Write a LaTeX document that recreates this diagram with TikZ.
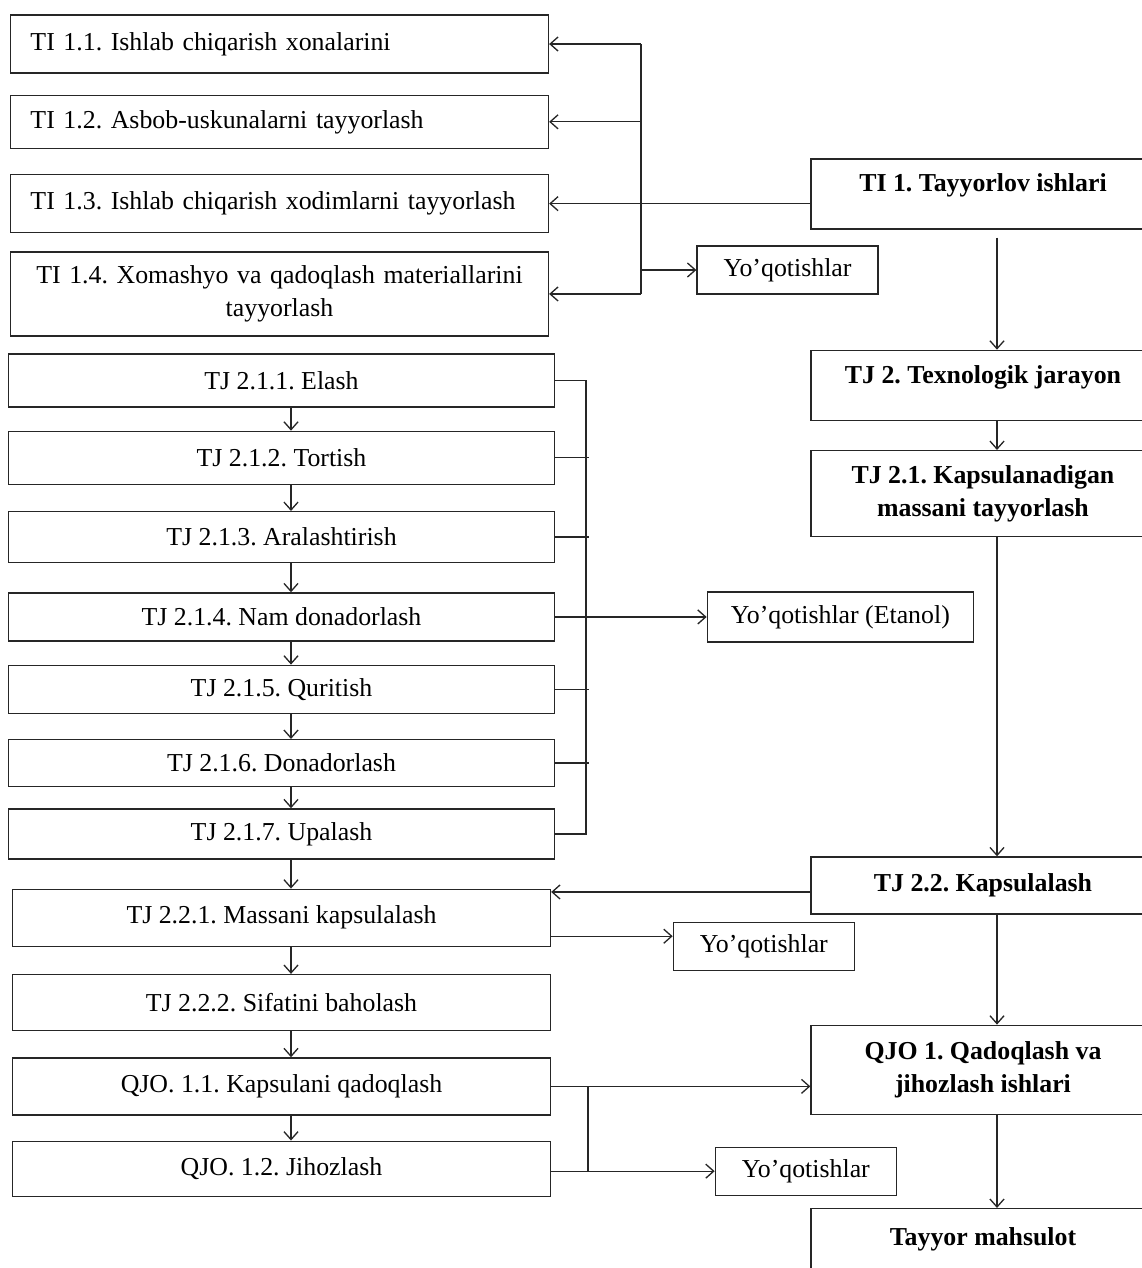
\documentclass[tikz,border=0pt]{standalone}
\usepackage{fontspec}
\setmainfont{Liberation Serif}
\usetikzlibrary{positioning, arrows.meta}
\frenchspacing
\definecolor{ink}{HTML}{262626}
\tikzset{
  flow box/.style={
    draw=ink,
    line width=0.75pt,
    text=black,
    inner xsep=0.4cm,
    inner ysep=0pt,
    align=center,
    font=\fontsize{14.7}{18.7}\selectfont,
  },
  prep box/.style={
    flow box,
    text width=9.96cm,
    align=left,
  },
  task box/.style={
    flow box,
    minimum width=10.92cm,
    inner xsep=0pt,
  },
  main box/.style={
    flow box,
    minimum width=6.88cm,
    inner xsep=0pt,
    font=\fontsize{14.7}{18.7}\selectfont\bfseries,
  },
  loss box/.style={
    flow box,
    minimum width=3.62cm,
    minimum height=0.96cm,
    inner xsep=0pt,
  },
  link/.style={ink, line width=0.75pt},
  arr/.style={link, -{Straight Barb[length=4.5pt, width=8pt]}},
}

\begin{document}
\begin{tikzpicture}[node distance=0.5cm]
  \useasboundingbox (0,0) rectangle (22.84,-25.36);
  \clip (0,0) rectangle (22.84,-25.36);

  % --- TI 1: preparation steps ---
  \node[prep box, minimum height=1.16cm] (ti11) at (5.59,-0.88) {TI 1.1. Ishlab chiqarish xonalarini};
  \node[prep box, minimum height=1.06cm, below=0.42cm of ti11] (ti12) {TI 1.2. Asbob-uskunalarni tayyorlash};
  \node[prep box, minimum height=1.16cm, below=0.5cm of ti12] (ti13) {TI 1.3. Ishlab chiqarish xodimlarni tayyorlash};
  \node[prep box, align=center, minimum height=1.68cm, below=0.36cm of ti13] (ti14) {TI 1.4. Xomashyo va qadoqlash materiallarini\\tayyorlash};
  \node[loss box] (loss1) at (15.75,-5.4) {Yo’qotishlar};

  % --- TJ 2.1: capsule mass steps ---
  \node[task box, minimum height=1.06cm] (tj211) at (5.63,-7.61) {TJ 2.1.1. Elash};
  \node[task box, minimum height=1.06cm, below=0.46cm of tj211] (tj212) {TJ 2.1.2. Tortish};
  \node[task box, minimum height=1.02cm, below=0.52cm of tj212] (tj213) {TJ 2.1.3. Aralashtirish};
  \node[task box, minimum height=0.96cm, below=0.58cm of tj213] (tj214) {TJ 2.1.4. Nam donadorlash};
  \node[task box, minimum height=0.96cm, below=0.46cm of tj214] (tj215) {TJ 2.1.5. Quritish};
  \node[task box, minimum height=0.94cm, below=0.5cm of tj215] (tj216) {TJ 2.1.6. Donadorlash};
  \node[task box, minimum height=1cm, below=0.42cm of tj216] (tj217) {TJ 2.1.7. Upalash};
  \node[loss box, minimum width=5.32cm, minimum height=1cm, right=3.03cm of tj214] (lossE) {Yo’qotishlar (Etanol)};

  % --- TJ 2.2 and QJO steps ---
  \node[task box, minimum width=10.76cm, minimum height=1.14cm, below=0.58cm of tj217] (tj221) {TJ 2.2.1. Massani kapsulalash};
  \node[task box, minimum width=10.76cm, minimum height=1.12cm, below=0.54cm of tj221] (tj222) {TJ 2.2.2. Sifatini baholash};
  \node[task box, minimum width=10.76cm, minimum height=1.14cm, below=0.52cm of tj222] (qjo11) {QJO. 1.1. Kapsulani qadoqlash};
  \node[task box, minimum width=10.76cm, minimum height=1.1cm, below=0.5cm of qjo11] (qjo12) {QJO. 1.2. Jihozlash};
  \node[loss box, right=2.43cm of tj221, yshift=-0.57cm] (loss2) {Yo’qotishlar};
  \node[loss box, right=3.27cm of qjo12, yshift=-0.05cm] (loss3) {Yo’qotishlar};

  % --- Main stages (right column) ---
  \node[main box, minimum height=1.4cm, text depth=0.44cm] (ti1) at (19.66,-3.88) {TI 1. Tayyorlov ishlari};
  \node[main box, minimum height=1.4cm, text depth=0.44cm, below=2.4cm of ti1] (tj2) {TJ 2. Texnologik jarayon};
  \node[main box, minimum height=1.72cm, below=0.58cm of tj2] (tj21) {TJ 2.1. Kapsulanadigan\\massani tayyorlash};
  \node[main box, minimum height=1.14cm, below=6.38cm of tj21] (tj22) {TJ 2.2. Kapsulalash};
  \node[main box, minimum height=1.78cm, below=2.2cm of tj22] (qjo1) {QJO 1. Qadoqlash va\\jihozlash ishlari};
  \node[main box, minimum height=2.4cm, text depth=1.28cm, below=1.86cm of qjo1] (tayyor) {Tayyor mahsulot};

  \coordinate (tibus) at (12.82,0);
  \coordinate (lbus) at (11.72,0);
  \coordinate (qbus) at (11.76,0);
  \coordinate (chain) at (5.82,0);
  \coordinate (spine) at (19.94,0);

  % --- Connections: TI 1 ---
  \draw[link] (tibus |- ti11.east) -- (tibus |- ti14.east);
  \foreach \n in {11,12,14} {
    \draw[arr] (tibus |- ti\n.east) -- (ti\n.east);
  }
  \draw[arr] (ti1.west |- ti13.east) -- (ti13.east);
  \draw[arr] (tibus |- loss1.west) -- (loss1.west);

  % --- Connections: main stages ---
  \draw[arr, shorten <=0.16cm] (spine |- ti1.south) -- (spine |- tj2.north);
  \foreach \a/\b in {tj2/tj21, tj21/tj22, tj22/qjo1, qjo1/tayyor} {
    \draw[arr] (spine |- \a.south) -- (spine |- \b.north);
  }

  % --- Connections: left chain ---
  \foreach \a/\b in {tj211/tj212, tj212/tj213, tj213/tj214, tj214/tj215, tj215/tj216, tj216/tj217, tj217/tj221, tj221/tj222, tj222/qjo11, qjo11/qjo12} {
    \draw[arr] (chain |- \a.south) -- (chain |- \b.north);
  }
  \draw[link] (tj211.east) -| (lbus |- tj217.east) -- (tj217.east);
  \foreach \n in {212,213,215,216} {
    \draw[link] (tj\n.east) -- ([xshift=0.06cm]lbus |- tj\n.east);
  }
  \draw[arr] (tj214.east) -- (lossE.west);

  % --- Connections: capsulation and packing ---
  \draw[arr] ([yshift=-0.13cm]tj22.west) -- ([yshift=-0.13cm]tj22.west -| tj221.east);
  \draw[arr] ([yshift=0.2cm]loss2.west -| tj221.east) -- ([yshift=0.2cm]loss2.west);
  \draw[arr] (qjo11.east) -- (qjo11.east -| qjo1.west);
  \draw[link] (qbus |- qjo11.east) -- (qbus |- loss3.west);
  \draw[arr] (qjo12.east |- loss3.west) -- (loss3.west);

\end{tikzpicture}
\end{document}
